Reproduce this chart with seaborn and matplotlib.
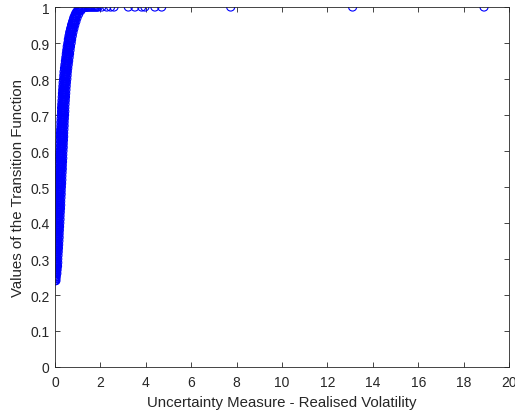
import matplotlib
matplotlib.use("Agg")
import matplotlib.pyplot as plt
import seaborn as sns
import numpy as np
import pandas as pd

# y levels of the dense band (transition function values)
band_y = [0.24,0.25,0.26,0.27,0.28,0.29,0.30,0.31,0.32,0.33,0.34,0.35,0.36,0.37,0.38,0.39,
          0.40,0.41,0.42,0.43,0.44,0.45,0.46,0.47,0.48,0.49,0.50,0.51,0.52,0.53,0.54,0.55,
          0.56,0.57,0.58,0.59,0.60,0.61,0.62,0.63,0.64,0.65,0.66,0.67,0.68,0.69,0.70,0.71,
          0.72,0.73,0.74,0.75,0.76,0.77,0.78,0.79,0.80,0.81,0.82,0.83,0.84,0.85,0.86,0.87,
          0.88,0.89,0.90,0.91,0.92,0.93,0.94,0.95,0.96,0.97,0.98,0.99]
band_y_b = [0.245,0.255,0.265,0.275,0.285,0.295,0.305,0.315,0.325,0.335,0.345,0.355,0.365,
            0.375,0.385,0.395,0.405,0.415,0.425,0.435,0.445,0.455,0.465,0.475,0.485,0.495,
            0.505,0.515,0.525,0.535,0.545,0.555,0.565,0.575,0.585,0.595,0.605,0.615,0.625,
            0.635,0.645,0.655,0.665,0.675,0.685,0.695,0.705,0.715,0.725,0.735,0.745,0.755,
            0.765,0.775,0.785,0.795,0.805,0.815,0.825,0.835,0.845,0.855,0.865,0.875,0.885,
            0.895,0.905,0.915,0.925,0.935,0.945,0.955,0.965,0.975,0.985,0.995]
# realised volatility readings across the band at each level (left edge ... right edge)
band_x_1 = [0.00,0.00,0.00,0.00,0.00,0.00,0.00,0.00,0.00,0.01,0.02,0.03,0.04,0.04,0.05,0.06,
            0.07,0.08,0.08,0.09,0.10,0.11,0.11,0.12,0.13,0.13,0.14,0.15,0.16,0.16,0.17,0.18,
            0.18,0.19,0.20,0.20,0.21,0.22,0.22,0.23,0.24,0.24,0.25,0.26,0.26,0.27,0.28,0.29,
            0.29,0.30,0.31,0.32,0.33,0.34,0.35,0.36,0.38,0.39,0.40,0.42,0.44,0.46,0.48,0.50,
            0.52,0.54,0.57,0.59,0.62,0.65,0.69,0.73,0.78,0.83,0.90,1.00]
band_x_2 = [0.00,0.00,0.00,0.00,0.01,0.02,0.02,0.03,0.04,0.05,0.06,0.07,0.08,0.08,0.09,0.10,
            0.11,0.12,0.12,0.13,0.14,0.15,0.15,0.16,0.17,0.17,0.18,0.19,0.20,0.20,0.21,0.22,
            0.22,0.23,0.24,0.24,0.25,0.26,0.26,0.27,0.28,0.28,0.29,0.30,0.30,0.31,0.32,0.33,
            0.33,0.34,0.35,0.36,0.37,0.38,0.39,0.40,0.42,0.43,0.44,0.46,0.48,0.50,0.52,0.54,
            0.56,0.58,0.61,0.63,0.66,0.69,0.73,0.77,0.82,0.87,0.94,1.04]
band_x_3 = [0.02,0.02,0.03,0.03,0.04,0.05,0.05,0.06,0.07,0.08,0.09,0.10,0.11,0.11,0.12,0.13,
            0.14,0.15,0.15,0.16,0.17,0.18,0.18,0.19,0.20,0.20,0.21,0.22,0.23,0.23,0.24,0.25,
            0.25,0.26,0.27,0.27,0.28,0.29,0.29,0.30,0.31,0.31,0.32,0.33,0.33,0.34,0.35,0.36,
            0.36,0.37,0.38,0.39,0.40,0.41,0.42,0.43,0.45,0.46,0.47,0.49,0.51,0.53,0.55,0.57,
            0.59,0.61,0.64,0.66,0.69,0.72,0.76,0.80,0.85,0.90,0.97,1.07]
band_x_4 = [0.03,0.04,0.06,0.06,0.07,0.08,0.08,0.09,0.10,0.11,0.12,0.13,0.14,0.14,0.15,0.16,
            0.17,0.18,0.18,0.19,0.20,0.21,0.21,0.22,0.23,0.23,0.24,0.25,0.26,0.26,0.27,0.28,
            0.28,0.29,0.30,0.30,0.31,0.32,0.32,0.33,0.34,0.34,0.35,0.36,0.36,0.37,0.38,0.39,
            0.39,0.40,0.41,0.42,0.43,0.44,0.45,0.46,0.48,0.49,0.50,0.52,0.54,0.56,0.58,0.60,
            0.62,0.64,0.67,0.69,0.72,0.75,0.79,0.83,0.88,0.93,1.00,1.10]
band_x_5 = [0.04,0.05,0.08,0.09,0.11,0.12,0.12,0.13,0.14,0.15,0.16,0.17,0.18,0.18,0.19,0.20,
            0.21,0.22,0.22,0.23,0.24,0.25,0.25,0.26,0.27,0.27,0.28,0.29,0.30,0.30,0.31,0.32,
            0.32,0.33,0.34,0.34,0.35,0.36,0.36,0.37,0.38,0.38,0.39,0.40,0.40,0.41,0.42,0.43,
            0.43,0.44,0.45,0.46,0.47,0.48,0.49,0.50,0.52,0.53,0.54,0.56,0.58,0.60,0.62,0.64,
            0.66,0.68,0.71,0.73,0.76,0.79,0.83,0.87,0.92,0.97,1.04,1.14]
# saturated tail near 1
tail_x = [1.12,1.17,1.22,1.28,1.33,1.38,1.45,1.5,1.55,1.6,1.65,1.7,1.75,1.8,1.85,1.9,
          2.06,2.28,2.45,2.6,3.23,3.52,3.82,3.96,4.4,4.7,7.74,13.11,18.9]
tail_y = [0.994,0.996,0.997,0.998,0.999,0.999,1.0,1.0,1.0,1.0,1.0,1.0,1.0,1.0,1.0,1.0,
          1.0,1.0,1.0,1.0,1.0,1.0,1.0,1.0,1.0,1.0,1.0,1.0,1.0]

x_ticks = [0, 2, 4, 6, 8, 10, 12, 14, 16, 18, 20]
y_ticks = [0, 0.1, 0.2, 0.3, 0.4, 0.5, 0.6, 0.7, 0.8, 0.9, 1]
y_tick_labels = ["0", "0.1", "0.2", "0.3", "0.4", "0.5", "0.6", "0.7", "0.8", "0.9", "1"]

df = pd.DataFrame({
    "x": band_x_1 + band_x_2 + band_x_3 + band_x_4 + band_x_5 + tail_x,
    "y": band_y + band_y_b + band_y + band_y_b + band_y + tail_y,
})

sns.set_style("white")
plt.rcParams['font.family'] = ['Liberation Sans', 'DejaVu Sans']

fig = plt.figure(figsize=(5.15, 4.14), dpi=100)
ax = fig.add_axes([55/515, 46/414, 454/515, 360/414])

sns.scatterplot(data=df, x="x", y="y", ax=ax, marker="o", s=34,
                fc="none", ec="#0000ff", linewidth=0.8, legend=False)

ax.set_xlim(0, 20)
ax.set_ylim(0, 1)
ax.set_xticks(x_ticks)
ax.set_xticklabels([str(t) for t in x_ticks])
ax.set_yticks(y_ticks)
ax.set_yticklabels(y_tick_labels)
dark = "#262626"
for s in ax.spines.values():
    s.set_visible(True)
    s.set_color(dark)
    s.set_linewidth(0.6)
ax.tick_params(direction="in", length=3.5, width=0.6, color=dark, labelcolor=dark,
               labelsize=10, top=True, right=True, bottom=True, left=True)
ax.tick_params(axis="x", pad=6)
ax.tick_params(axis="y", pad=4)
ax.set_xlabel("Uncertainty Measure - Realised Volatility", fontsize=10.8, color=dark, labelpad=4)
ax.set_ylabel("Values of the Transition Function", fontsize=10.8, color=dark, labelpad=4)

fig.savefig("out.png", dpi=100)
